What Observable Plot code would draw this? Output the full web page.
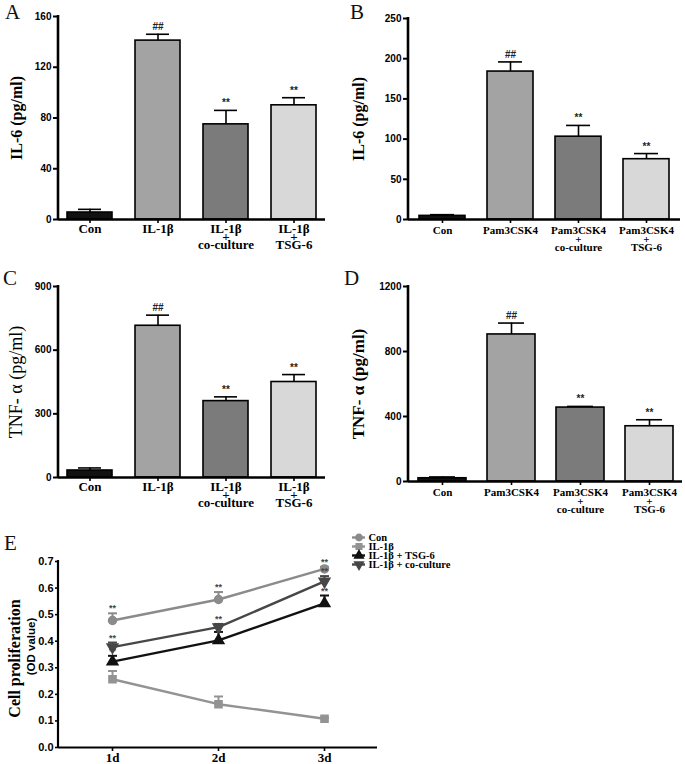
<!DOCTYPE html>
<html>
<head>
<meta charset="utf-8">
<script src="https://cdn.jsdelivr.net/npm/d3@7"></script>
<script src="https://cdn.jsdelivr.net/npm/@observablehq/plot@0.6"></script>
<style>
  body { margin: 0; background: #fff; }
  #fig { position: relative; width: 685px; height: 764px; background: #fff; overflow: hidden; }
  #fig > svg, #fig > div { position: absolute; }
  .letter { font-family: "Liberation Serif", serif; font-size: 21px; color: #111; }
</style>
</head>
<body>
<div id="fig"></div>
<script>
// ---------- data ----------
const catsIL = ["Con", "IL-1β", "IL-1β\n+\nco-culture", "IL-1β\n+\nTSG-6"];
const catsPam = ["Con", "Pam3CSK4", "Pam3CSK4\n+\nco-culture", "Pam3CSK4\n+\nTSG-6"];
const barFills = ["#111111", "#a3a3a3", "#7b7b7b", "#d8d8d8"];
const sigMarks = ["", "##", "**", "**"];

const aMean = [5.5, 141, 75, 90];
const aErr = [8, 146, 86, 96];
const bMean = [4.5, 184, 103, 75];
const bErr = [6, 196, 117, 82];
const cMean = [33, 715, 360, 450];
const cErr = [45, 765, 380, 485];
const dMean = [20, 905, 455, 340];
const dErr = [28, 975, 462, 380];

const aTicks = [0, 40, 80, 120, 160];
const bTicks = [0, 50, 100, 150, 200, 250];
const cTicks = [0, 300, 600, 900];
const dTicks = [0, 400, 800, 1200];

const days = ["1d", "2d", "3d"];
const seriesNames = ["Con", "IL-1β", "IL-1β + TSG-6", "IL-1β + co-culture"];
const seriesColors = ["#8b8b8b", "#939393", "#111111", "#474747"];
const seriesSymbols = ["circle", "square", "triangle", "triangle"];
const seriesRotate = [0, 0, 0, 180];
const conMean = [0.478, 0.557, 0.672];
const conErr = [0.505, 0.585, 0.68];
const il1Mean = [0.257, 0.163, 0.108];
const il1Err = [0.288, 0.192, 0.112];
const tsgMean = [0.323, 0.403, 0.542];
const tsgErr = [0.345, 0.435, 0.572];
const cocMean = [0.378, 0.453, 0.625];
const cocErr = [0.395, 0.465, 0.645];
const tsgStars = ["**", "", "**"];
const conStars = ["**", "**", "**"];
const cocStars = ["**", "**", "**"];
const eTicks = [0, 0.1, 0.2, 0.3, 0.4, 0.5, 0.6, 0.7];

const fig = document.getElementById("fig");
const SERIF = "'Liberation Serif', 'Times New Roman', serif";
const SANS = "'Liberation Sans', Arial, sans-serif";

// function mark: vertical axis line at the left edge of the frame
function leftLine(w) {
  return (index, scales, values, dims) => {
    const l = document.createElementNS("http://www.w3.org/2000/svg", "line");
    l.setAttribute("x1", dims.marginLeft);
    l.setAttribute("x2", dims.marginLeft);
    l.setAttribute("y1", dims.marginTop - 1);
    l.setAttribute("y2", dims.height - dims.marginBottom + 1);
    l.setAttribute("stroke", "#000");
    l.setAttribute("stroke-width", w);
    return l;
  };
}
// custom horizontal-cap symbol
const capSymbol = (half) => ({ draw(ctx) { ctx.moveTo(-half, 0); ctx.lineTo(half, 0); } });

function place(svg, left, top) {
  svg.style.left = left + "px";
  svg.style.top = top + "px";
  fig.appendChild(svg);
}
function letter(t, left, top) {
  const d = document.createElement("div");
  d.className = "letter";
  d.textContent = t;
  d.style.left = left + "px";
  d.style.top = top + "px";
  fig.appendChild(d);
}

function barPanel(o) {
  const data = o.cats.map((c, i) => ({ cat: c, mean: o.mean[i], err: o.err[i], sig: sigMarks[i], fill: barFills[i] }));
  return Plot.plot({
    width: o.width, height: o.height,
    marginLeft: o.ml, marginRight: o.mr, marginTop: o.mt, marginBottom: o.mb,
    style: { background: "transparent", color: "#000", fontFamily: SERIF, overflow: "visible" },
    x: { domain: o.cats, paddingInner: o.pi, paddingOuter: o.po, label: null },
    y: { domain: [0, o.ticks[o.ticks.length - 1]], label: null },
    marks: [
      Plot.ruleX(data, { x: "cat", y1: "mean", y2: "err", stroke: "#000", strokeWidth: 1.6 }),
      Plot.tickY(data, { x: "cat", y: "err", stroke: "#000", strokeWidth: 1.6, insetLeft: o.capInset, insetRight: o.capInset }),
      Plot.barY(data, { x: "cat", y: "mean", fill: "fill", stroke: "#000", strokeWidth: 1.6 }),
      Plot.text(data, { x: "cat", y: "err", text: "sig", dy: -4, lineAnchor: "bottom", fontSize: 10, fontWeight: "bold", fontFamily: SANS, fill: "#222" }),
      Plot.axisY({ ticks: o.ticks, tickFormat: d3.format("d"), tickSize: 5, tickPadding: 2, label: null, fontSize: 10, fontWeight: "bold", fontFamily: SANS, strokeWidth: 2 }),
      Plot.axisX({ tickSize: 4, tickPadding: o.tp, label: null, fontSize: o.catFont, fontWeight: "bold", fontFamily: SERIF, lineHeight: o.lh, strokeWidth: 1.6 }),
      Plot.ruleY([0], { stroke: "#000", strokeWidth: 2.6 }),
      leftLine(2.6),
      Plot.text([o.ylabel], { frameAnchor: "left", dx: -o.labelOff, rotate: -90, textAnchor: "middle", fontSize: o.labelSize, fontWeight: o.labelWeight, fontFamily: SERIF, fill: "#000" })
    ]
  });
}

place(barPanel({ cats: catsIL, mean: aMean, err: aErr, ticks: aTicks, width: 340, height: 262, ml: 58, mr: 15, mt: 16, mb: 43,
  pi: 0.34, po: 0.12, capInset: 11, catFont: 13, tp: 4, lh: 0.6, ylabel: "IL-6 (pg/ml)", labelOff: 42, labelSize: 16, labelWeight: "bold" }), 0, 0);
place(barPanel({ cats: catsPam, mean: bMean, err: bErr, ticks: bTicks, width: 345, height: 262, ml: 68, mr: 5, mt: 18, mb: 43,
  pi: 0.33, po: 0.16, capInset: 11, catFont: 11, tp: 5, lh: 0.75, ylabel: "IL-6 (pg/ml)", labelOff: 50, labelSize: 16, labelWeight: "bold" }), 340, 0);
place(barPanel({ cats: catsIL, mean: cMean, err: cErr, ticks: cTicks, width: 340, height: 252, ml: 58, mr: 15, mt: 16, mb: 45,
  pi: 0.34, po: 0.12, capInset: 11, catFont: 13, tp: 4, lh: 0.6, ylabel: "TNF- α (pg/ml)", labelOff: 42, labelSize: 18, labelWeight: "normal" }), 0, 270);
place(barPanel({ cats: catsPam, mean: dMean, err: dErr, ticks: dTicks, width: 345, height: 252, ml: 68, mr: 3, mt: 16, mb: 41,
  pi: 0.31, po: 0.13, capInset: 11, catFont: 11, tp: 5, lh: 0.75, ylabel: "TNF- α (pg/ml)", labelOff: 50, labelSize: 17, labelWeight: "bold" }), 340, 270);

// ---------- panel E ----------
const means = [conMean, il1Mean, tsgMean, cocMean];
const errs = [conErr, il1Err, tsgErr, cocErr];
const stars = [conStars, ["", "", ""], tsgStars, cocStars];
const eData = [];
seriesNames.forEach((s, si) => days.forEach((d, di) => eData.push({
  series: s, day: d, v: means[si][di], e: errs[si][di], star: stars[si][di],
  color: seriesColors[si], symbol: seriesSymbols[si], rot: seriesRotate[si]
})));
const drawOrder = [1, 0, 3, 2];
const ordered = drawOrder.flatMap(i => eData.filter(d => d.series === seriesNames[i]));

const plotE = Plot.plot({
  width: 390, height: 244,
  marginLeft: 58, marginRight: 13, marginTop: 41, marginBottom: 17,
  style: { background: "transparent", color: "#000", fontFamily: SERIF, overflow: "visible" },
  x: { type: "point", domain: days, padding: 0.5, label: null },
  y: { domain: [0, 0.7], label: null },
  marks: [
    Plot.ruleX(ordered, { x: "day", y1: "v", y2: "e", stroke: "color", strokeWidth: 2 }),
    Plot.dot(ordered, { x: "day", y: "e", symbol: capSymbol(4.5), stroke: "color", strokeWidth: 2, r: 4 }),
    Plot.line(ordered, { x: "day", y: "v", z: "series", stroke: "color", strokeWidth: 2.4 }),
    Plot.dot(ordered, { x: "day", y: "v", symbol: "symbol", fill: "color", stroke: "color", rotate: "rot", r: 4 }),
    Plot.text(ordered, { x: "day", y: "e", text: "star", dy: -2, lineAnchor: "bottom", fontSize: 9, fontWeight: "bold", fontFamily: SANS, fill: "#444" }),
    Plot.axisY({ ticks: eTicks, tickFormat: d3.format(".1f"), tickSize: 3, tickPadding: 2, label: null, fontSize: 11, fontWeight: "bold", fontFamily: SANS, strokeWidth: 1.6 }),
    Plot.axisX({ tickSize: 4, tickPadding: 1, label: null, fontSize: 13, fontWeight: "bold", fontFamily: SERIF, strokeWidth: 1.6 }),
    Plot.ruleY([0], { stroke: "#000", strokeWidth: 2.2 }),
    leftLine(2.2),
    Plot.text(["Cell proliferation"], { frameAnchor: "left", dx: -44, dy: 4, rotate: -90, textAnchor: "middle", fontSize: 16, fontWeight: "bold", fontFamily: SERIF, fill: "#000" }),
    Plot.text(["(OD value)"], { frameAnchor: "left", dx: -27, dy: -8, rotate: -90, textAnchor: "middle", fontSize: 11.5, fontWeight: "bold", fontFamily: SANS, fill: "#000" })
  ]
});
place(plotE, 0, 520);

// ---------- legend for E ----------
const legendData = seriesNames.map((s, i) => ({ name: s, color: seriesColors[i], symbol: seriesSymbols[i], rot: seriesRotate[i] }));
const legend = Plot.plot({
  width: 160, height: 57,
  marginLeft: 12, marginRight: 135, marginTop: 9, marginBottom: 9,
  style: { background: "transparent", color: "#000", fontFamily: SERIF, overflow: "visible" },
  y: { type: "point", domain: seriesNames, axis: null },
  marks: [
    Plot.ruleY(legendData, { y: "name", stroke: "color", strokeWidth: 2.4 }),
    Plot.dot(legendData, { y: "name", symbol: "symbol", fill: "color", stroke: "color", rotate: "rot", r: 3.2 }),
    Plot.text(legendData, { y: "name", text: "name", frameAnchor: "right", dx: 3, textAnchor: "start", fontSize: 10.5, fontWeight: "bold", fontFamily: SERIF, fill: "#000" })
  ]
});
place(legend, 340, 522);

letter("A", 5, 0);
letter("B", 350, 0);
letter("C", 3, 266);
letter("D", 344, 266);
letter("E", 4, 531);
</script>
</body>
</html>
